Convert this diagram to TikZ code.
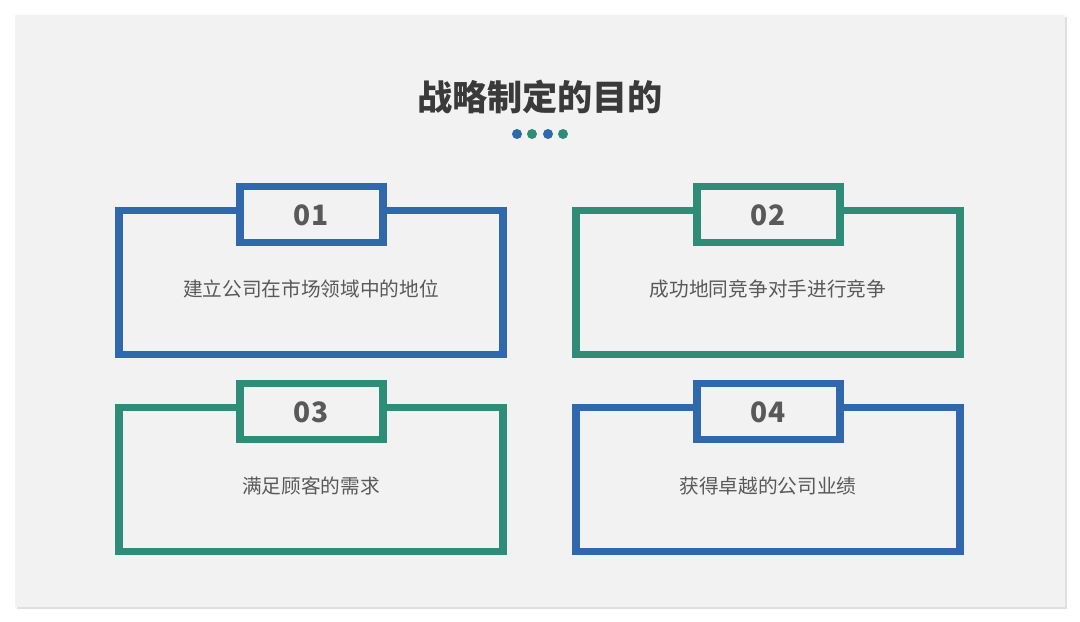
\documentclass[tikz,border=0pt]{standalone}
\usepackage{fontspec}
\setmainfont{Noto Sans CJK SC}
\definecolor{slideblue}{HTML}{2F69AC}
\definecolor{slideteal}{HTML}{2F8C76}
\definecolor{slidebg}{HTML}{F2F2F2}
\definecolor{titlegray}{HTML}{3A3A3A}
\definecolor{textgray}{HTML}{595959}
\usetikzlibrary{positioning}
\tikzset{
  frame/.style={draw=#1, line width=7pt*0.57, fill=slidebg},
  numtext/.style={font=\fontsize{16}{19}\selectfont\bfseries, text=textgray},
  bodytext/.style={font=\fontsize{11.2}{14}\selectfont, text=textgray},
  dot/.style={circle, fill=#1, inner sep=0pt, minimum size=0.2cm}
}
% one card: x offset, y offset, colour, number, text
\newcommand{\goalcard}[5]{%
  \draw[frame=#3] (#1+119,622-#2-211) rectangle (#1+503,622-#2-355);
  \draw[frame=#3] (#1+240,622-#2-187) rectangle (#1+383,622-#2-243);
  \node[numtext] (num#4) at (#1+311,622-#2-215) {#4};
  \node[bodytext] (body#4) at (#1+311,622-#2-289) {#5};
}
\begin{document}
\begin{tikzpicture}[x=0.02cm, y=0.02cm]
  \useasboundingbox (0,0) rectangle (1080,622);
  \fill[white] (0,0) rectangle (1080,622);
  \fill[black!12] (17,13) rectangle (1067,605);
  \fill[slidebg] (15,15) rectangle (1065,607);

  % title
  \node[font=\fontsize{20}{24}\selectfont\bfseries, text=titlegray] (title) at (540,525) {战略制定的目的};
  \node[dot=slideblue] (d1) at (517,488) {};
  \node[dot=slideteal] (d2) at (532,488) {};
  \node[dot=slideblue] (d3) at (548,488) {};
  \node[dot=slideteal] (d4) at (563,488) {};

  % cards
  \goalcard{0}{0}{slideblue}{01}{建立公司在市场领域中的地位}
  \goalcard{457}{0}{slideteal}{02}{成功地同竞争对手进行竞争}
  \goalcard{0}{197}{slideteal}{03}{满足顾客的需求}
  \goalcard{457}{197}{slideblue}{04}{获得卓越的公司业绩}
\end{tikzpicture}
\end{document}
